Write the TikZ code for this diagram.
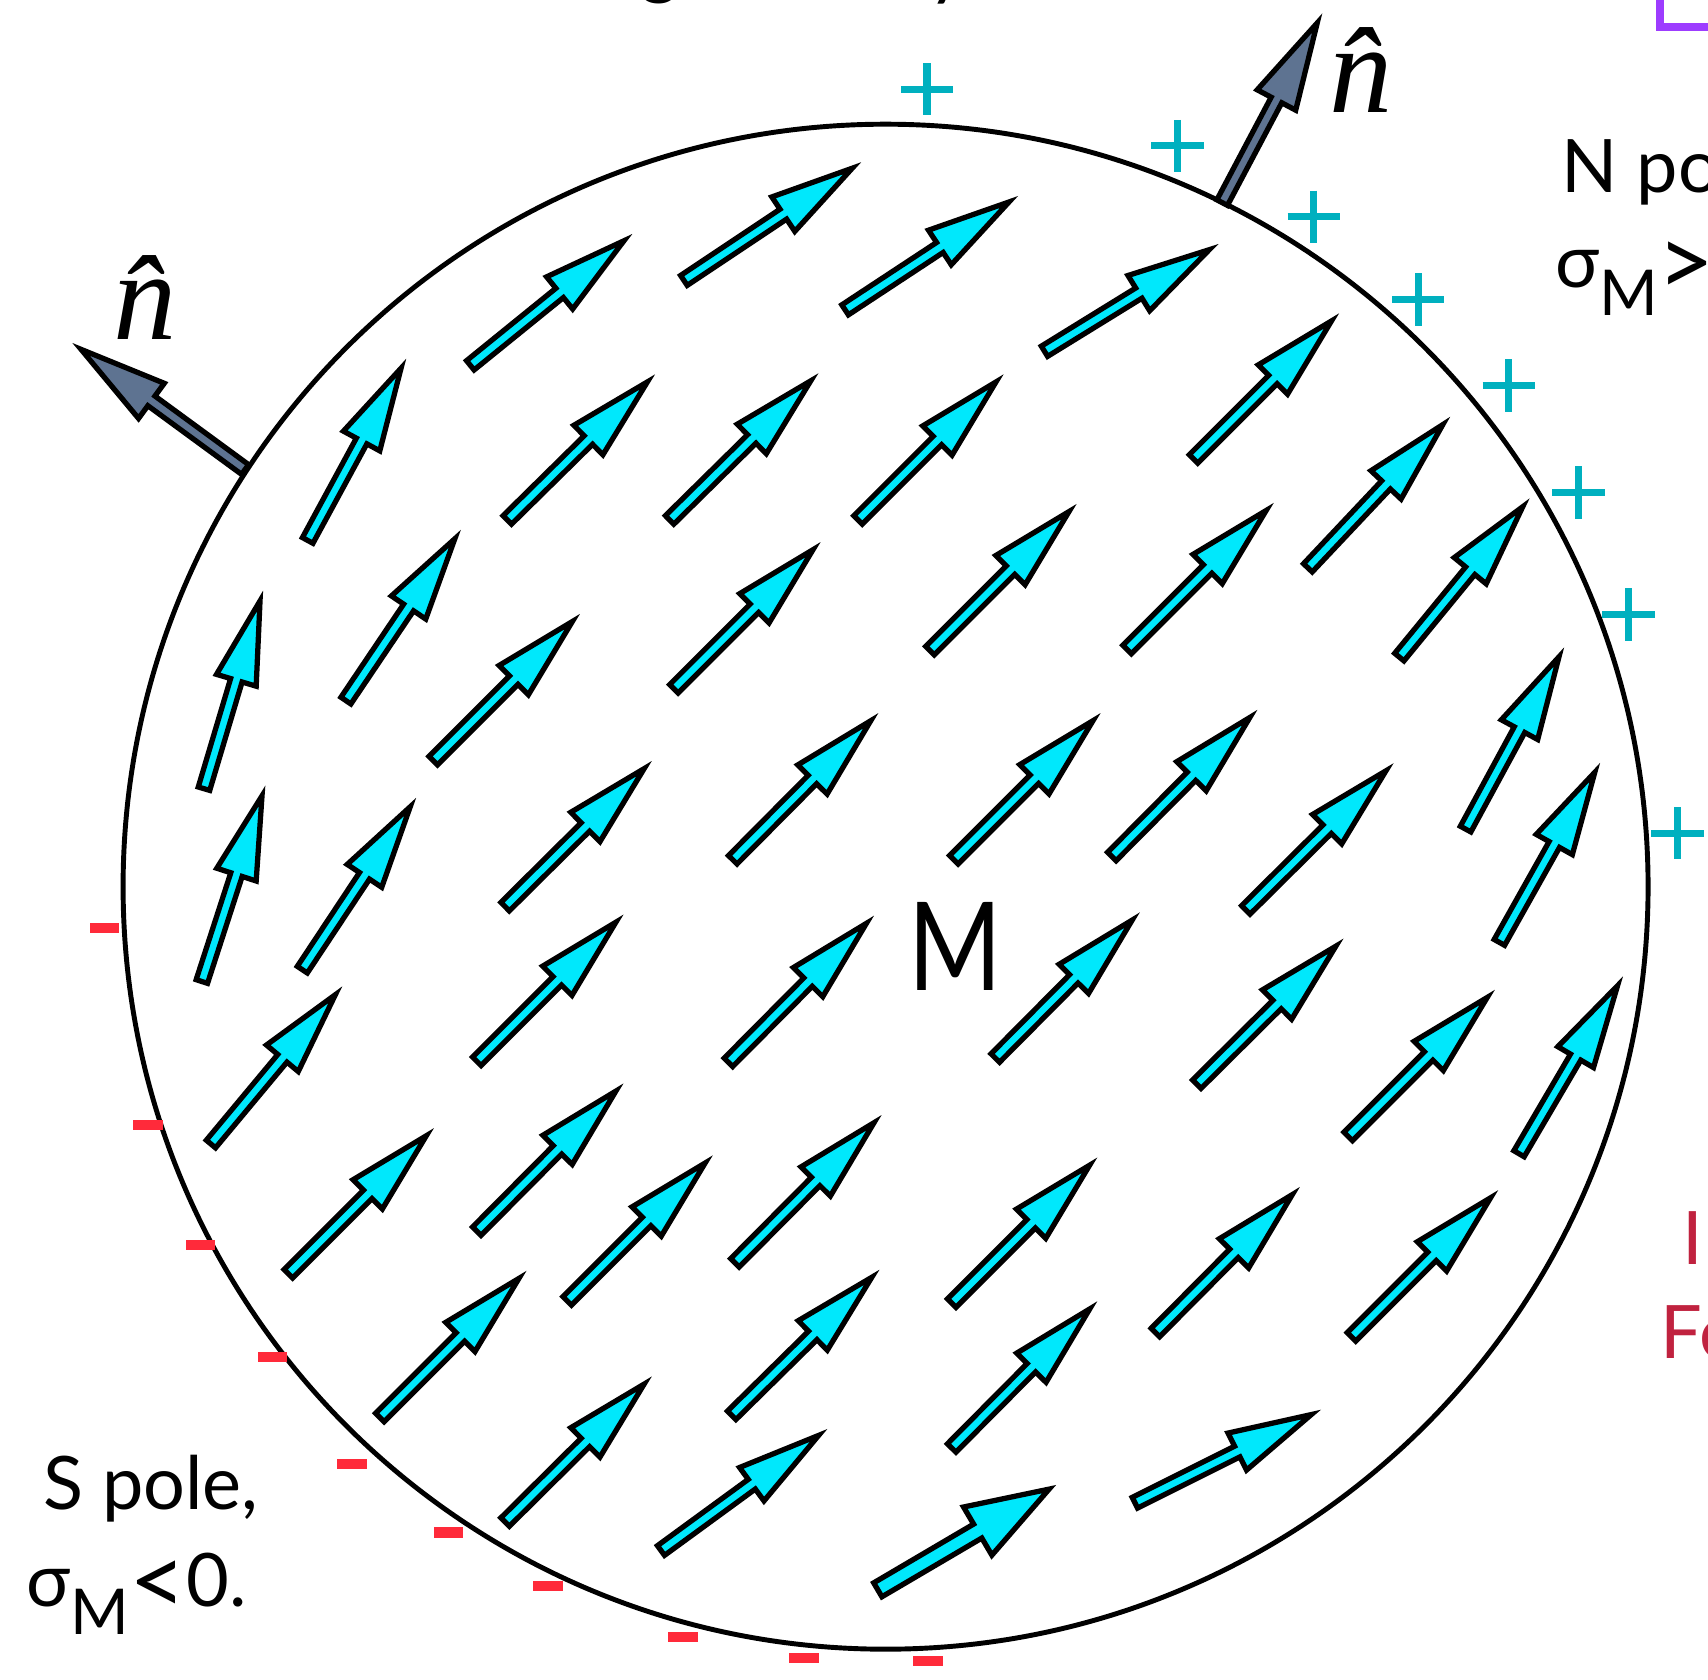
\documentclass[tikz,border=0pt]{standalone}
\usepackage{fontspec}
\setmainfont{Lato}
\newfontfamily\normfont{Liberation Serif}
\usepackage{tikz}
\definecolor{magcyan}{HTML}{00E8FC}
\definecolor{normgray}{HTML}{5E7391}
\definecolor{plusteal}{HTML}{00B0BF}
\definecolor{minusred}{HTML}{FF2A3A}
\definecolor{poleviolet}{HTML}{9D3CFF}
\definecolor{labelred}{HTML}{C0223F}

\begin{document}
\begin{tikzpicture}[x=0.010893cm, y=-0.010893cm,
  magarrow/.style={draw=black, line width=1.5pt, fill=magcyan, line join=miter},
  normarrow/.style={magarrow, fill=normgray},
  plussign/.style={draw=plusteal, line width=2pt},
  minussign/.style={fill=minusred},
  poletext/.style={font=\fontsize{21}{24}\selectfont, inner sep=0pt},
  nhat/.style={font=\normfont\itshape\fontsize{36}{40}\selectfont, inner sep=0pt}]
  \useasboundingbox (0,0) rectangle (1568,1542);

  % cut-off title and frame above the picture
  \node[poletext, anchor=base] (titleg) at (606,-9) {g};
  \node[poletext, anchor=base west] (titley) at (852,-8) {y};
  \draw[poleviolet, line width=2.3pt] (1524,-5) -- (1524,24.5) -- (1580,24.5);

  % the magnetised sphere
  \draw[line width=1.4pt] (813,814) circle [radius=700];
  \node[font=\fontsize{35}{40}\selectfont, inner sep=0pt, anchor=base] (mlabel) at (877,909) {\scalebox{0.82}[1]{M}};

  % magnetisation arrows (tail x/y, tip x/y)
  \foreach \xa/\ya/\xb/\yb in {431/336/579/216, 627/258/789/150, 775/285/933/181, 958/323/1117/225,
      282/497/372/331, 465/478/600/345, 614/478/750/344, 787/478/920/345, 1095/422/1228/289,
      317/644/422/488, 187/725/241/544, 397/699/531/565, 618/633/752/499, 853/598/987/464,
      1034/597/1168/463, 1200/522/1330/384, 1284/604/1403/459,
      185/902/243/723, 277/891/381/734, 463/833/597/700, 672/790/805/656, 875/790/1009/656,
      1020/787/1153/653, 1345/762/1435/596, 1143/836/1278/702, 1376/866/1468/702,
      193/1051/313/907, 437/975/571/841, 668/976/801/842, 913/972/1045/839, 1098/996/1232/863,
      1237/1044/1371/910, 1394/1060/1489/898,
      264/1170/397/1037, 437/1131/571/996, 520/1195/653/1062, 674/1160/808/1025, 873/1197/1006/1064,
      1060/1224/1192/1091, 1240/1228/1374/1094,
      348/1302/482/1168, 671/1300/806/1167, 873/1330/1006/1196, 463/1398/597/1265,
      606/1424/758/1313, 1041/1380/1211/1295} {
    \pgfmathsetmacro{\ang}{atan2(\ya-\yb,\xb-\xa)}
    \pgfmathsetmacro{\len}{veclen(\xb-\xa,\yb-\ya)-8}
    \draw[magarrow, shift={(\xa,\ya)}, rotate=\ang]
      (1,-5.5) -- (\len-76,-5.5) -- (\len-76,-19) -- (\len,0) -- (\len-76,19) -- (\len-76,5.5) -- (1,5.5) -- cycle;
  }
  % the wider one at the bottom
  \pgfmathsetmacro{\ang}{atan2(1460-1363,970-805)}
  \pgfmathsetmacro{\len}{veclen(970-805,1460-1363)-8}
  \draw[magarrow, shift={(805,1460)}, rotate=\ang, yscale=1.35]
    (1,-5.5) -- (\len-76,-5.5) -- (\len-76,-19) -- (\len,0) -- (\len-76,19) -- (\len-76,5.5) -- (1,5.5) -- cycle;

  % surface normals
  \pgfmathsetmacro{\ang}{atan2(431-316,68-225)}
  \pgfmathsetmacro{\len}{veclen(68-225,316-431)-8}
  \draw[normarrow, shift={(225,431)}, rotate=\ang]
    (0,-5.5) -- (\len-80,-5.5) -- (\len-80,-20) -- (\len,0) -- (\len-80,20) -- (\len-80,5.5) -- (0,5.5) -- cycle;
  \pgfmathsetmacro{\ang}{atan2(186-14,1213-1122)}
  \pgfmathsetmacro{\len}{veclen(1213-1122,14-186)-8}
  \draw[normarrow, shift={(1122,186)}, rotate=\ang]
    (0,-5.5) -- (\len-80,-5.5) -- (\len-80,-20) -- (\len,0) -- (\len-80,20) -- (\len-80,5.5) -- (0,5.5) -- cycle;
  \node[nhat, anchor=base] (nleft) at (133,312) {\^{n}};
  \node[nhat, anchor=base] (nright) at (1250,103) {\^{n}};

  % surface charges
  \foreach \x/\y in {851/82, 1081/134, 1206/199, 1302/275, 1385/354, 1449/452, 1495/564, 1540/765}
    \draw[plussign] (\x-24,\y) -- (\x+24,\y) (\x,\y-24) -- (\x,\y+24);
  \foreach \x/\y in {96/852, 136/1033, 184/1143, 250/1246, 323/1344, 412/1407, 503/1456, 627/1503, 738/1522, 852/1525}
    \fill[minussign] (\x-13.5,\y-4.75) rectangle ++(27,9.5);

  % pole labels
  \node[poletext, anchor=base west] (npole) at (1433,177) {N pole,};
  \node[poletext, anchor=base west] (nsigma) at (1427,264)
    {σ\raisebox{-8pt}{\fontsize{18}{20}\selectfont M}\raisebox{-2.5pt}{\fontsize{28}{28}\selectfont >}0.};
  \node[poletext, anchor=base west] (spole) at (39,1386) {S pole,};
  \node[poletext, anchor=base west] (ssigma) at (24,1475)
    {σ\raisebox{-8pt}{\fontsize{18}{20}\selectfont M}\raisebox{-2.5pt}{\fontsize{28}{28}\selectfont <}0.};
  \node[poletext, anchor=base west, text=labelred] (redi) at (1544,1161) {I};
  \node[poletext, anchor=base west, text=labelred] (redfe) at (1524,1247) {Fe};
\end{tikzpicture}
\end{document}
